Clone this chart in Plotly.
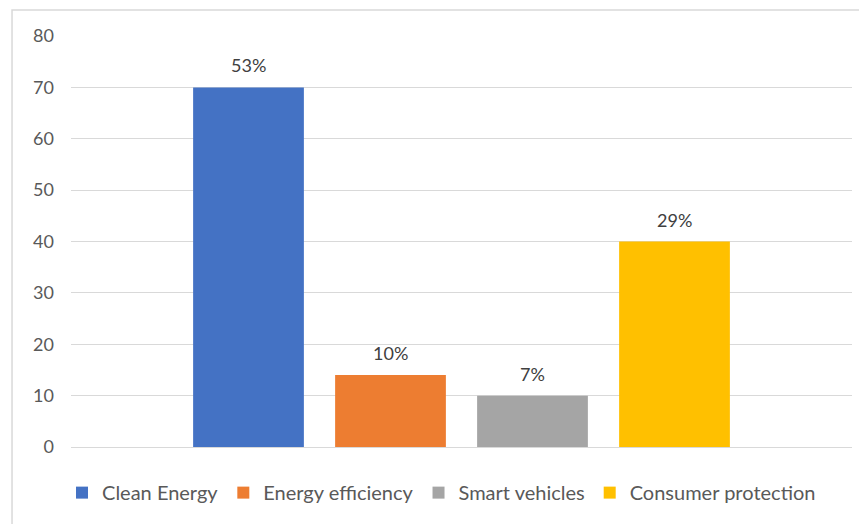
import plotly.graph_objects as go

series = ["Clean Energy", "Energy efficiency", "Smart vehicles", "Consumer protection"]
values = [70, 14, 10, 40]
labels = ["53%", "10%", "7%", "29%"]
colors = ["#4472C4", "#ED7D31", "#A5A5A5", "#FFC000"]
y_ticks = [0, 10, 20, 30, 40, 50, 60, 70, 80]

FONT = "Lato"
fig = go.Figure()
for i, (name, v, c) in enumerate(zip(series, values, colors)):
    fig.add_trace(go.Bar(x=[i], y=[v], name=name, marker=dict(color=c, line=dict(width=0)),
                         width=0.78, hoverinfo="skip"))
    fig.add_annotation(x=i, y=v, text=labels[i], showarrow=False, yanchor="middle", yshift=22,
                       font=dict(family=FONT, size=18, color="#404040"))

fig.add_shape(type="rect", xref="paper", yref="paper", x0=-0.0755, x1=1.2, y0=-0.5, y1=1.063,
              line=dict(color="#D9D9D9", width=1.5), fillcolor="rgba(0,0,0,0)", layer="below")

# page body has an 8px margin, so the figure is sized to fit the 867x524 window
fig.update_layout(
    width=859, height=516,
    margin=dict(l=63, r=15, t=28, b=75),
    paper_bgcolor="white", plot_bgcolor="white",
    barmode="overlay",
    showlegend=True,
    legend=dict(orientation="h", x=-0.0115, xanchor="left", y=-0.111, yanchor="middle",
                font=dict(family=FONT, size=20, color="#595959"), traceorder="normal",
                bgcolor="rgba(0,0,0,0)"),
    xaxis=dict(range=[-1.25, 4.25], showticklabels=False, showgrid=False, zeroline=False,
               showline=False, fixedrange=True),
    yaxis=dict(range=[0, 80], tickvals=y_ticks, showgrid=True, gridcolor="#D9D9D9", gridwidth=1,
               zeroline=True, zerolinecolor="#D9D9D9", zerolinewidth=1, showline=False,
               ticklabelstandoff=16,
               tickfont=dict(family=FONT, size=18, color="#595959")),
    font=dict(family=FONT),
)
fig.write_html("out.html")
